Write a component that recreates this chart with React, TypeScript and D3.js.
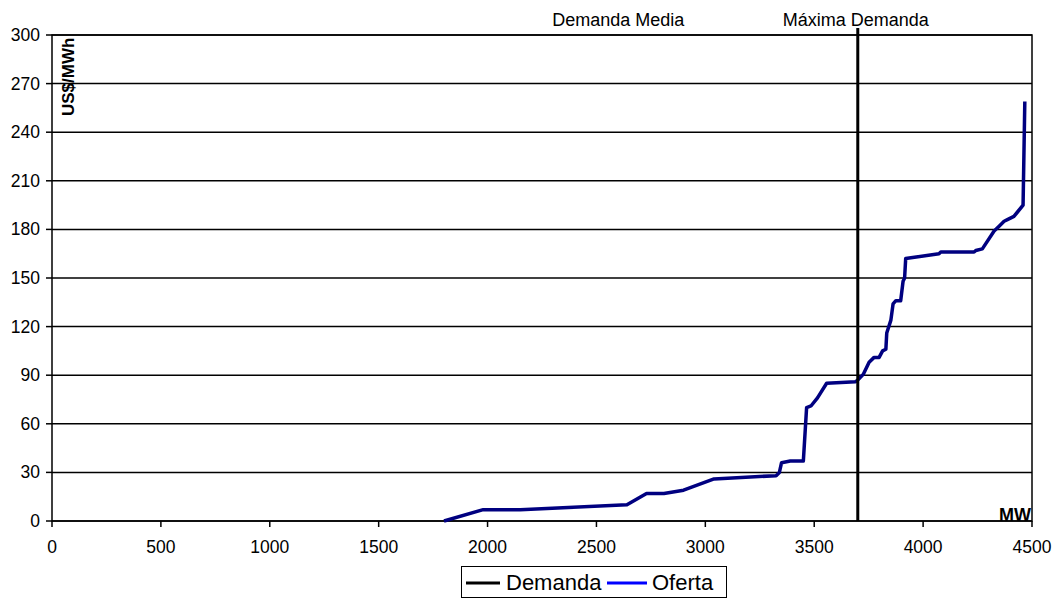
import React from "react";
import * as d3 from "d3";

const supplyMW = [1800, 1980, 2150, 2640, 2730, 2810, 2900, 3040, 3325, 3340, 3350, 3390, 3450, 3465, 3485, 3515, 3557, 3690, 3700, 3725, 3752, 3775, 3798, 3814, 3829, 3833, 3852, 3862, 3875, 3897, 3908, 3915, 3920, 4073, 4081, 4234, 4242, 4272, 4326, 4349, 4372, 4387, 4417, 4459, 4467];
const supplyPrice = [0, 7, 7, 10, 17, 17, 19, 26, 28, 30, 36, 37, 37, 70, 71, 76, 85, 86, 87, 90.5, 98, 101, 101, 105, 106, 116, 124, 134, 136, 136, 148, 150, 162, 165, 166, 166, 167, 168, 179, 182, 185, 186, 188, 195, 259];
const xTicks = [0, 500, 1000, 1500, 2000, 2500, 3000, 3500, 4000, 4500];
const yTicks = [0, 30, 60, 90, 120, 150, 180, 210, 240, 270, 300];
const maxDemandMW = 3700;
const meanDemandMW = 2600;
const seriesNames = ["Demanda", "Oferta"];

const FONT = "'Liberation Sans', Arial, sans-serif";

export default function App() {
  const W = 1056, H = 599;
  const x = d3.scaleLinear().domain([0, 4500]).range([52, 1032]);
  const y = d3.scaleLinear().domain([0, 300]).range([521, 35]);
  const pts = supplyMW.map((m, i) => [m, supplyPrice[i]] as [number, number]);
  const line = d3.line<[number, number]>().x(d => x(d[0])).y(d => y(d[1]));

  return (
    <svg width={W} height={H} style={{ position: "absolute", left: 0, top: 0, background: "#fff" }} fontFamily={FONT}>
      <rect x={0} y={0} width={W} height={H} fill="#fff" />
      {yTicks.map(t => (
        <line key={"g" + t} x1={x(0)} x2={x(4500)} y1={y(t)} y2={y(t)} stroke="#000" strokeWidth={1.5} />
      ))}
      <rect x={x(0)} y={y(300)} width={x(4500) - x(0)} height={y(0) - y(300)} fill="none" stroke="#000" strokeWidth={1.5} />
      {yTicks.map(t => (
        <g key={"y" + t}>
          <line x1={x(0) - 6} x2={x(0)} y1={y(t)} y2={y(t)} stroke="#000" strokeWidth={1.5} />
          <text x={40} y={y(t) + 6} textAnchor="end" fontSize={17.5} fill="#000">{t}</text>
        </g>
      ))}
      {xTicks.map(t => (
        <g key={"x" + t}>
          <line x1={x(t)} x2={x(t)} y1={y(0)} y2={y(0) + 6} stroke="#000" strokeWidth={1.5} />
          <text x={x(t)} y={553} textAnchor="middle" fontSize={17.5} fill="#000">{t}</text>
        </g>
      ))}
      <path d={line(pts) || ""} fill="none" stroke="#000080" strokeWidth={3.5} strokeLinejoin="round" />
      <line x1={x(maxDemandMW)} x2={x(maxDemandMW)} y1={28} y2={y(0)} stroke="#000" strokeWidth={3} />
      <text x={x(meanDemandMW)} y={26} textAnchor="middle" fontSize={18} fill="#000">Demanda Media</text>
      <text x={x(maxDemandMW) - 2} y={26} textAnchor="middle" fontSize={18} fill="#000">Máxima Demanda</text>
      <text transform={`translate(74,116) rotate(-90)`} fontSize={17} fontWeight="bold" fill="#000">US$/MWh</text>
      <text x={1031} y={521} textAnchor="end" fontSize={18} fontWeight="bold" fill="#000">MW</text>
      <rect x={461.5} y={566.5} width={265} height={31} fill="#fff" stroke="#000" strokeWidth={1} />
      <line x1={466} x2={500} y1={583} y2={583} stroke="#000" strokeWidth={3} />
      <text x={506} y={590} fontSize={22} fill="#000">{seriesNames[0]}</text>
      <line x1={607} x2={647} y1={583} y2={583} stroke="#0000ff" strokeWidth={3} />
      <text x={652} y={590} fontSize={22} fill="#000">{seriesNames[1]}</text>
    </svg>
  );
}
